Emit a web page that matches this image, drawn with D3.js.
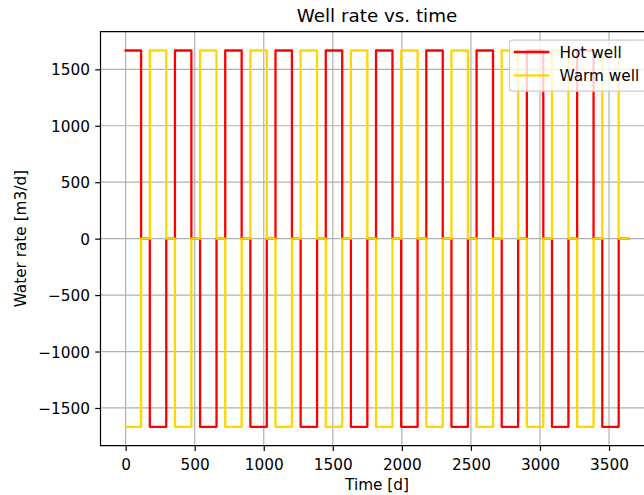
<!DOCTYPE html>
<html>
<head>
<meta charset="utf-8">
<script src="https://cdn.jsdelivr.net/npm/d3@7"></script>
<style>
  html, body { margin: 0; padding: 0; background: #fff; }
  svg { display: block; font-family: "DejaVu Sans", sans-serif; }
</style>
</head>
<body>
<svg id="chart" width="644" height="495"></svg>
<script>
// Switching times of the well schedule [d]
const switchDays = [0, 112, 175, 294, 357, 476, 539, 658, 721, 840, 903, 1022, 1085, 1204,
  1267, 1386, 1449, 1568, 1631, 1750, 1813, 1932, 1995, 2114, 2177, 2296, 2359, 2478,
  2541, 2660, 2723, 2842, 2905, 3024, 3087, 3206, 3269, 3388, 3451, 3570, 3640];

// Rates held from each switching time until the next one [m3/d]
const hotRate = [1666.7, 0, -1666.7, 0, 1666.7, 0, -1666.7, 0, 1666.7, 0, -1666.7, 0,
  1666.7, 0, -1666.7, 0, 1666.7, 0, -1666.7, 0, 1666.7, 0, -1666.7, 0, 1666.7, 0, -1666.7, 0,
  1666.7, 0, -1666.7, 0, 1666.7, 0, -1666.7, 0, 1666.7, 0, -1666.7, 0, 0];
const warmRate = [-1666.7, 0, 1666.7, 0, -1666.7, 0, 1666.7, 0, -1666.7, 0, 1666.7, 0,
  -1666.7, 0, 1666.7, 0, -1666.7, 0, 1666.7, 0, -1666.7, 0, 1666.7, 0, -1666.7, 0, 1666.7, 0,
  -1666.7, 0, 1666.7, 0, -1666.7, 0, 1666.7, 0, -1666.7, 0, 1666.7, 0, 0];

const seriesNames = ["Hot well", "Warm well"];
const seriesColors = ["#ff0000", "#ffd700"];

const xTicks = [0, 500, 1000, 1500, 2000, 2500, 3000, 3500];
const yTicks = [-1500, -1000, -500, 0, 500, 1000, 1500];

(function draw() {
  const svg = d3.select("#chart");
  const W = 644, H = 495;
  svg.append("rect").attr("width", W).attr("height", H).attr("fill", "#fff");

  // Axes box (right edge lies past the canvas)
  const axL = 100.5, axR = 653.5, axT = 31.7, axB = 445.6;

  // 5% padding on the data extent, as in the usual autoscaling
  const tMin = d3.min(switchDays), tMax = d3.max(switchDays);
  const padX = (tMax - tMin) * 0.05;
  const allRates = hotRate.concat(warmRate);
  const rMin = d3.min(allRates), rMax = d3.max(allRates);
  const padY = (rMax - rMin) * 0.05;

  const x = d3.scaleLinear().domain([tMin - padX, tMax + padX]).range([axL, axR]);
  const y = d3.scaleLinear().domain([rMin - padY, rMax + padY]).range([axB, axT]);

  const fmt = v => (v < 0 ? "\u2212" + Math.abs(v) : String(v));
  const fs = 15.3;

  // Grid
  const grid = svg.append("g");
  grid.selectAll(".gx").data(xTicks).join("line")
    .attr("x1", d => x(d)).attr("x2", d => x(d))
    .attr("y1", axT).attr("y2", axB)
    .attr("stroke", "#b0b0b0").attr("stroke-width", 1.2);
  grid.selectAll(".gy").data(yTicks).join("line")
    .attr("x1", axL).attr("x2", axR)
    .attr("y1", d => y(d)).attr("y2", d => y(d))
    .attr("stroke", "#b0b0b0").attr("stroke-width", 1.2);

  // Series
  const series = [hotRate, warmRate];
  const line = d3.line()
    .x((d, i) => x(switchDays[i]))
    .y(d => y(d))
    .curve(d3.curveStepAfter);

  series.forEach((vals, k) => {
    svg.append("path")
      .attr("d", line(vals))
      .attr("fill", "none")
      .attr("stroke", seriesColors[k])
      .attr("stroke-width", 2.3)
      .attr("stroke-linecap", "square")
      .attr("stroke-linejoin", "round");
  });

  // Axes
  const xAxis = d3.axisBottom(x).tickValues(xTicks).tickFormat(fmt).tickSize(5.3).tickPadding(5.3);
  const yAxis = d3.axisLeft(y).tickValues(yTicks).tickFormat(fmt).tickSize(5.3).tickPadding(5.3);

  const gx = svg.append("g").attr("transform", `translate(0,${axB})`).call(xAxis);
  const gy = svg.append("g").attr("transform", `translate(${axL},0)`).call(yAxis);
  [gx, gy].forEach(g => {
    g.select(".domain").remove();
    g.selectAll(".tick line").attr("stroke", "#000").attr("stroke-width", 1.2);
    g.selectAll(".tick text").attr("fill", "#000").attr("font-size", fs)
      .attr("font-family", "DejaVu Sans");
  });
  gx.selectAll(".tick text").attr("dy", null).attr("y", 470 - axB);
  gy.selectAll(".tick text").attr("dy", "0.36em");

  // Spines
  const spine = svg.append("g").attr("stroke", "#000").attr("stroke-width", 1.2).attr("stroke-linecap", "square");
  spine.append("line").attr("x1", axL).attr("x2", axL).attr("y1", axT).attr("y2", axB);
  spine.append("line").attr("x1", axL).attr("x2", axR).attr("y1", axB).attr("y2", axB);
  spine.append("line").attr("x1", axL).attr("x2", axR).attr("y1", axT).attr("y2", axT);
  spine.append("line").attr("x1", axR).attr("x2", axR).attr("y1", axT).attr("y2", axB);

  // Title and axis labels
  const cx = (axL + axR) / 2;
  svg.append("text").attr("x", cx).attr("y", 21.7).attr("text-anchor", "middle")
    .attr("font-size", 18.3).attr("fill", "#000").text("Well rate vs. time");
  svg.append("text").attr("x", cx).attr("y", 490).attr("text-anchor", "middle")
    .attr("font-size", fs).attr("fill", "#000").text("Time [d]");
  svg.append("text")
    .attr("transform", `translate(26,${(axT + axB) / 2}) rotate(-90)`)
    .attr("text-anchor", "middle")
    .attr("font-size", fs).attr("fill", "#000").text("Water rate [m3/d]");

  // Legend
  const lg = svg.append("g");
  lg.append("rect")
    .attr("x", 509.5).attr("y", 40.2).attr("width", 137).attr("height", 51)
    .attr("rx", 3).attr("ry", 3)
    .attr("fill", "#fff").attr("fill-opacity", 0.8)
    .attr("stroke", "#cccccc").attr("stroke-width", 1.2);
  seriesNames.forEach((name, k) => {
    const ly = 52 + k * 23.3;
    lg.append("line").attr("x1", 515).attr("x2", 548.3).attr("y1", ly).attr("y2", ly)
      .attr("stroke", seriesColors[k]).attr("stroke-width", 2.3).attr("stroke-linecap", "square");
    lg.append("text").attr("x", 559.5).attr("y", ly + 5.6)
      .attr("font-size", fs).attr("fill", "#000").text(name);
  });
})();
</script>
</body>
</html>
